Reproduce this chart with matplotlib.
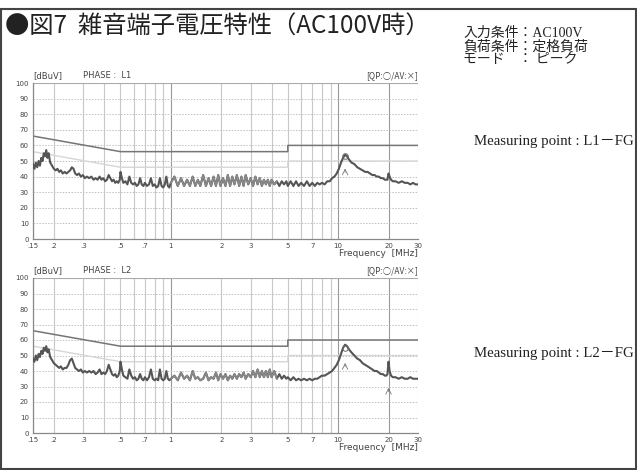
import matplotlib
matplotlib.use("Agg")
import matplotlib.pyplot as plt
from matplotlib.patches import Rectangle
import numpy as np

# sweep frequencies [MHz]
freq_mhz = [
    0.150, 0.153, 0.156, 0.159, 0.162, 0.165, 0.168, 0.171, 0.174, 0.177,
    0.180, 0.183, 0.186, 0.190, 0.195, 0.200, 0.205, 0.210, 0.215, 0.220,
    0.226, 0.232, 0.238, 0.244, 0.250, 0.256, 0.262, 0.268, 0.275, 0.282,
    0.290, 0.298, 0.306, 0.315, 0.325, 0.335, 0.345, 0.355, 0.365, 0.375,
    0.385, 0.395, 0.405, 0.415, 0.425, 0.435, 0.445, 0.455, 0.465, 0.475,
    0.485, 0.495,
    0.50, 0.51, 0.52, 0.535, 0.55, 0.565, 0.58, 0.595, 0.61, 0.625,
    0.64, 0.655, 0.67, 0.685, 0.70, 0.72, 0.74, 0.76, 0.78, 0.80,
    0.82, 0.84, 0.86, 0.88, 0.90, 0.92, 0.94, 0.96, 0.98,
    1.00, 1.05, 1.10, 1.15, 1.20, 1.25, 1.30, 1.35, 1.40, 1.45,
    1.50, 1.56, 1.62, 1.68, 1.74, 1.80, 1.86, 1.92, 1.98, 2.05,
    2.12, 2.19, 2.26, 2.33, 2.40, 2.48, 2.56, 2.64, 2.72, 2.80,
    2.90, 3.00, 3.10, 3.20, 3.30, 3.40, 3.50, 3.60, 3.70, 3.80,
    3.90, 4.00, 4.15, 4.30, 4.45, 4.60, 4.75, 4.90,
    5.0, 5.2, 5.4, 5.6, 5.8, 6.0, 6.25, 6.5, 6.75, 7.0,
    7.25, 7.5, 7.75, 8.0, 8.3, 8.6, 8.9, 9.2, 9.5, 9.8,
    10.1, 10.4, 10.7, 11.0, 11.3, 11.6, 12.0, 12.5, 13.0, 13.5,
    14.0, 14.5, 15.0, 15.5, 16.0, 16.5, 17.0, 17.5, 18.0, 18.5,
    19.0, 19.4, 19.7, 20.0, 20.3, 20.7, 21.2, 22.0, 23.0, 24.0,
    25.0, 26.0, 27.0, 28.0, 29.0, 30.0,
]

# measured level L1-FG [dBuV]
level_l1 = [
    48, 45, 49, 46, 50, 47, 52, 50, 55, 53,
    57, 52, 55, 49, 47, 45, 44, 45, 43, 44,
    42, 43, 42, 43, 44, 46, 45, 42, 41, 42,
    40, 41, 39, 40, 39, 40, 38, 39, 38, 40,
    38, 39, 37, 38, 41, 39, 37, 38, 36, 37,
    36, 38,
    43, 39, 36, 37, 35, 40, 36, 35, 36, 34,
    35, 39, 35, 34, 36, 34, 35, 39, 34, 35,
    33, 34, 39, 34, 33, 35, 40, 34, 33,
    36, 40, 34, 39, 34, 38, 34, 40, 34, 38,
    34, 41, 34, 39, 34, 40, 34, 41, 34, 39,
    34, 41, 34, 40, 35, 41, 34, 40, 34, 41,
    35, 39, 34, 40, 35, 39, 34, 38, 35, 38,
    34, 38, 35, 37, 34, 37, 35, 37,
    34, 37, 34, 37, 34, 36, 34, 37, 34, 36,
    34, 36, 35, 36, 35, 37, 37, 39, 40, 42,
    45, 49, 52, 54, 53, 51, 49, 48, 46, 45,
    44, 43, 43, 42, 41, 41, 40, 40, 39, 39,
    38, 38, 38, 42, 40, 38, 37, 37, 36, 37,
    36, 36, 35, 36, 35, 35,
]

# measured level L2-FG [dBuV]
level_l2 = [
    48, 46, 50, 47, 51, 49, 53, 51, 55, 53,
    56, 52, 54, 49, 47, 45, 44, 43, 42, 43,
    41, 42, 42, 44, 47, 48, 45, 42, 41, 40,
    41, 39, 40, 39, 40, 39, 40, 38, 39, 41,
    38, 39, 38, 40, 44, 41, 38, 37, 38, 36,
    37, 40,
    46, 41, 37, 36, 35, 41, 37, 35, 36, 34,
    35, 38, 35, 34, 36, 34, 36, 41, 35, 34,
    35, 34, 41, 35, 34, 35, 40, 35, 34,
    35, 37, 34, 39, 35, 37, 34, 40, 35, 36,
    34, 35, 39, 34, 36, 35, 39, 34, 38, 35,
    38, 34, 37, 35, 38, 35, 38, 36, 39, 35,
    38, 36, 40, 36, 41, 36, 40, 36, 40, 36,
    41, 36, 40, 35, 38, 35, 37, 35,
    36, 34, 36, 34, 35, 34, 35, 34, 35, 34,
    35, 35, 36, 37, 37, 38, 39, 40, 42, 44,
    47, 51, 55, 57, 56, 54, 52, 50, 48, 47,
    45, 44, 43, 42, 41, 40, 40, 39, 38, 38,
    37, 37, 38, 46, 40, 37, 36, 36, 35, 36,
    35, 35, 36, 35, 35, 35,
]

# limit lines (QP / AV)
limit_freq = [0.15, 0.5, 0.5, 5, 5, 30]
limit_qp = [66, 56, 56, 56, 60, 60]
limit_av = [56, 46, 46, 46, 50, 50]

# QP circle and marker arrows
qp_freq = [11.0]
qp_l1 = [53]
qp_l2 = [55]
arrow_freq_l1 = [11.0]
arrow_level_l1 = [47]
arrow_freq_l2 = [11.0, 20.0]
arrow_level_l2 = [47, 31]

xticks = [0.15, 0.2, 0.3, 0.5, 0.7, 1, 2, 3, 5, 7, 10, 20, 30]
xlabels = ['.15', '.2', '.3', '.5', '.7', '1', '2', '3', '5', '7', '10', '20', '30']
grid_freq = [0.15, 0.2, 0.3, 0.4, 0.5, 0.6, 0.7, 0.8, 0.9, 1, 2, 3, 4, 5, 6, 7, 8, 9, 10, 20, 30]
yticks = [0, 10, 20, 30, 40, 50, 60, 70, 80, 90, 100]

cond_lines = ['入力条件：AC100V', '負荷条件：定格負荷', 'モード　： ピーク']

fig = plt.figure(figsize=(6.37, 4.70), dpi=100)

W, H = 637.0, 470.0

# outer frame
fig.add_artist(Rectangle((1.5 / W, 1 - 468.5 / H), 634 / W, 460 / H,
                         transform=fig.transFigure, fill=False,
                         ec='#444444', lw=1.5))

jp = ['Noto Sans CJK JP', 'DejaVu Sans']
serif = ['Liberation Serif', 'Noto Sans CJK JP']

fig.text(5 / W, 1 - 27 / H, '●図7  雑音端子電圧特性（AC100V時）',
         family=jp, fontsize=17.5, color='#222222', va='center', ha='left')

for i, line in enumerate(cond_lines):
    fig.text(463 / W, 1 - (33 + i * 13.5) / H, line, family=serif,
             fontsize=10, color='#222222', va='center')


def draw_panel(ax, level, qp_level, arrow_f, arrow_v, phase, point_y):
    ax.set_xscale('log')
    ax.set_xlim(0.15, 30)
    ax.set_ylim(0, 100)

    for f in grid_freq:
        c = '#999999' if f in (1, 10, 20) else '#c8c8c8'
        ax.axvline(f, color=c, lw=0.8, zorder=1)
    for v in yticks[1:-1]:
        ax.axhline(v, color='#c0c0c0', lw=0.7, ls=(0, (1.5, 1.5)), zorder=1)
    ax.axhline(100, color='#aaaaaa', lw=0.8, zorder=1)

    ax.plot(limit_freq, limit_av, color='#d6d6d6', lw=1.0, zorder=2)
    ax.plot(limit_freq, limit_qp, color='#757575', lw=1.1, zorder=2)

    # the 1-5 MHz part of the sweep is printed lighter
    f = np.array(freq_mhz)
    lv = np.array(level, dtype=float)
    light = (f >= 1.0) & (f <= 4.3)
    ax.plot(f, lv, color='#555555', lw=1.5, zorder=3)
    ax.plot(f[light], lv[light], color='#8a8a8a', lw=1.2, zorder=3)

    ax.plot(qp_freq, qp_level, 'o', mfc='none', mec='#666666', ms=4, mew=0.7, zorder=4)
    for af, av in zip(arrow_f, arrow_v):
        ax.annotate('', xy=(af, av), xytext=(af, av - 6),
                    arrowprops=dict(arrowstyle='->', lw=0.6, color='#777777'))

    ax.set_xticks(xticks)
    ax.set_xticklabels(xlabels)
    ax.xaxis.set_minor_locator(matplotlib.ticker.NullLocator())
    ax.set_yticks(yticks)
    ax.tick_params(length=0, labelsize=5, colors='#444444', pad=3)
    for s in ['top', 'right']:
        ax.spines[s].set_visible(False)
    for s in ['left', 'bottom']:
        ax.spines[s].set_color('#888888')
        ax.spines[s].set_linewidth(0.9)

    ax.text(0.0, 1.02, '[dBuV]', transform=ax.transAxes, fontsize=6,
            color='#444444', ha='left', va='bottom')
    ax.text(0.13, 1.02, 'PHASE :  ' + phase, transform=ax.transAxes, fontsize=6,
            color='#444444', ha='left', va='bottom')
    ax.text(1.0, 1.02, '[QP:○/AV:×]', transform=ax.transAxes, fontsize=6,
            color='#444444', ha='right', va='bottom', family=jp)
    ax.text(1.0, -0.065, 'Frequency  [MHz]', transform=ax.transAxes, fontsize=6.5,
            color='#444444', ha='right', va='top')

    fig.text(474 / W, 1 - point_y / H, 'Measuring point : ' + phase + '－FG',
             family=serif, fontsize=10.7, color='#222222', va='center')


ax1 = fig.add_axes([33 / W, 1 - 239 / H, 385 / W, 156 / H])
draw_panel(ax1, level_l1, qp_l1, arrow_freq_l1, arrow_level_l1, 'L1', 141)

ax2 = fig.add_axes([33 / W, 1 - 433 / H, 385 / W, 155 / H])
draw_panel(ax2, level_l2, qp_l2, arrow_freq_l2, arrow_level_l2, 'L2', 354)

fig.savefig('out.png', dpi=100)
